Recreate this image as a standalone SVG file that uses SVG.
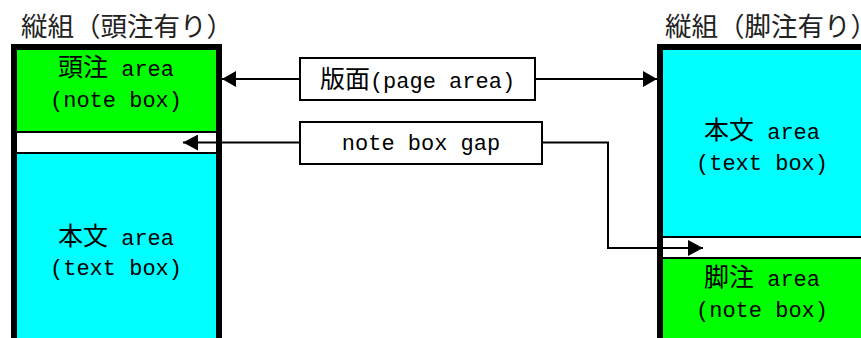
<svg xmlns="http://www.w3.org/2000/svg" width="861" height="338" viewBox="0 0 861 338">
<style>
.title{font-family:"Noto Sans CJK JP","Noto Sans",sans-serif;font-size:26.5px;fill:#222}
.lbl{font-family:"Liberation Mono",monospace;font-size:22px;fill:#000;text-anchor:middle}
.cjk{font-family:"Noto Sans CJK JP",sans-serif;font-size:25px}
.sep{stroke:#000;stroke-width:2}
.border{fill:none;stroke:#000;stroke-width:6}
.box{fill:#fff;stroke:#000;stroke-width:2}
.conn{fill:none;stroke:#000;stroke-width:2}
</style>
<defs>
<marker id="ah" markerUnits="userSpaceOnUse" markerWidth="14" markerHeight="16" refX="14" refY="8" orient="auto">
<path d="M0,0 L14,8 L0,16 Z" fill="#000"/>
</marker>
<marker id="ahs" markerUnits="userSpaceOnUse" markerWidth="15" markerHeight="16" refX="15" refY="8" orient="auto">
<path d="M0,0 L15,8 L0,16 Z" fill="#000"/>
</marker>
</defs>
<rect width="861" height="338" fill="#fff"/>

<g id="left-box">
<text class="title" x="21" y="35.5">縦組（頭注有り）</text>
<rect x="17" y="50" width="199" height="82" fill="#00ff00"/>
<rect x="17" y="133" width="199" height="19" fill="#fff"/>
<rect x="17" y="154" width="199" height="190" fill="#00ffff"/>
<line class="sep" x1="17" y1="132" x2="216" y2="132"/>
<line class="sep" x1="17" y1="153" x2="216" y2="153"/>
<rect class="border" x="14" y="47" width="205" height="320"/>
<text class="lbl" x="116" y="76"><tspan class="cjk">頭注</tspan> area</text>
<text class="lbl" x="116" y="107">(note box)</text>
<text class="lbl" x="116" y="245"><tspan class="cjk">本文</tspan> area</text>
<text class="lbl" x="116" y="275">(text box)</text>
</g>

<g id="right-box">
<text class="title" x="665" y="35.5">縦組（脚注有り）</text>
<rect x="662" y="50" width="210" height="187" fill="#00ffff"/>
<rect x="662" y="238" width="210" height="19" fill="#fff"/>
<rect x="662" y="259" width="210" height="90" fill="#00ff00"/>
<line class="sep" x1="662" y1="237" x2="872" y2="237"/>
<line class="sep" x1="662" y1="258" x2="872" y2="258"/>
<rect class="border" x="660" y="47" width="300" height="320"/>
<text class="lbl" x="762" y="139"><tspan class="cjk">本文</tspan> area</text>
<text class="lbl" x="762" y="170">(text box)</text>
<text class="lbl" x="762" y="286"><tspan class="cjk">脚注</tspan> area</text>
<text class="lbl" x="762" y="317">(note box)</text>
</g>

<g id="connectors">
<line class="conn" x1="299" y1="79" x2="222" y2="79" marker-end="url(#ah)"/>
<line class="conn" x1="535" y1="79" x2="657" y2="79" marker-end="url(#ah)"/>
<line class="conn" x1="299" y1="142.5" x2="183" y2="142.5" marker-end="url(#ahs)"/>
<polyline class="conn" points="542,142.5 608,142.5 608,248 703,248" marker-end="url(#ahs)"/>
</g>

<g id="page-area">
<rect class="box" x="300" y="58" width="235" height="42"/>
<text class="lbl" x="417.5" y="88"><tspan class="cjk">版面</tspan>(page area)</text>
</g>

<g id="note-box-gap">
<rect class="box" x="300" y="122" width="242" height="42"/>
<text class="lbl" x="421" y="150">note box gap</text>
</g>
</svg>
